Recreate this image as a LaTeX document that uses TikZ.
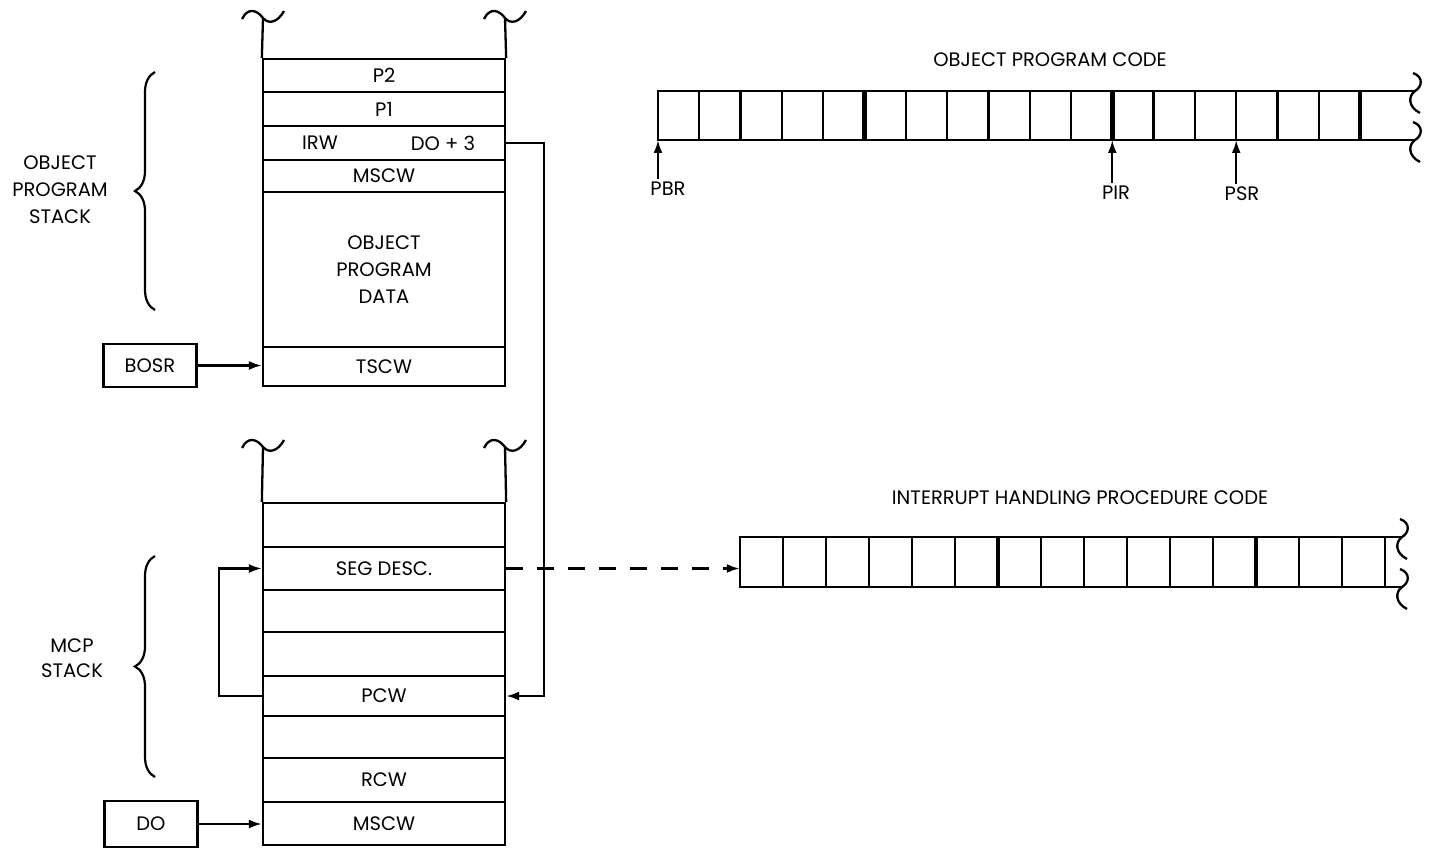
\documentclass[tikz,border=0pt]{standalone}
\usepackage{fontspec}
\setmainfont{Poppins}
\usetikzlibrary{arrows.meta,decorations.pathreplacing}
\begin{document}
\begin{tikzpicture}[x=1pt,y=-1pt,
  every node/.style={font=\fontsize{19.5}{27}\selectfont},
  ln/.style={line width=2.3pt},
  row/.style={draw,line width=2.3pt,minimum width=242pt,inner sep=0pt,anchor=center},
  regbox/.style={draw,line width=2.3pt,minimum width=93pt,minimum height=43pt,inner sep=0pt},
  arr/.style={line width=2.3pt,-{Latex[length=13pt,width=9pt]}},
  thickdiv/.style={line width=4.5pt},
  brc/.style={line width=2.2pt,decorate,decoration={brace,amplitude=20pt}},
  tld/.pic={\draw[line width=2.3pt] (-21,3) .. controls (-15,-9) and (-6,-6) .. (0,2) .. controls (6,9) and (15,6) .. (21,-5);},
  brk/.pic={\draw[line width=2.3pt] (-2,-18) .. controls (9,-14) and (7,-4) .. (0,0) .. controls (-7,5) and (-7,16) .. (5,22);}
]
\useasboundingbox (0,0) rectangle (1439,850);
\fill[white] (0,0) rectangle (1439,850);

% ---------- object program stack ----------
\node[row,minimum height=33pt] (p2) at (384,75.5) {P2};
\node[row,minimum height=34pt] (p1) at (384,109) {P1};
\node[row,minimum height=34pt] (irw) at (384,143) {};
\node (irwt) at (320,143) {IRW};
\node (dot) at (443,143) {DO + 3};
\node[row,minimum height=32pt] (mscw1) at (384,176) {MSCW};
\node[row,minimum height=155pt,align=center] (data) at (384,269.5) {OBJECT\\PROGRAM\\DATA};
\node[row,minimum height=39pt] (tscw) at (384,366.5) {TSCW};
\coordinate (tl1) at (263,18);
\coordinate (tr1) at (505,18);
\draw[ln] (tl1) -- (p2.north west);
\draw[ln] (tr1) -- (p2.north east);
\pic at (263,16) {tld};
\pic at (505,16) {tld};

\draw[brc] (155,310) -- (155,72);
\node[align=center] (ostack) at (60,190) {OBJECT\\PROGRAM\\STACK};

\node[regbox] (bosr) at (150,365.5) {BOSR};
\draw[arr] (bosr.east) -- (bosr.east -| tscw.west);

% ---------- MCP stack ----------
\node[row,minimum height=44pt] (b1) at (384,525) {};
\node[row,minimum height=43pt] (seg) at (384,568.5) {SEG DESC.};
\node[row,minimum height=42pt] (b3) at (384,611) {};
\node[row,minimum height=44pt] (b4) at (384,654) {};
\node[row,minimum height=40pt] (pcw) at (384,696) {PCW};
\node[row,minimum height=42pt] (b6) at (384,737) {};
\node[row,minimum height=44pt] (rcw) at (384,780) {RCW};
\node[row,minimum height=43pt] (mscw2) at (384,823.5) {MSCW};
\coordinate (tl2) at (263,447);
\coordinate (tr2) at (505,447);
\draw[ln] (tl2) -- (b1.north west);
\draw[ln] (tr2) -- (b1.north east);
\pic at (263,445) {tld};
\pic at (505,445) {tld};

\draw[brc] (155,777) -- (155,556);
\node[align=center,font=\fontsize{19.5}{25}\selectfont] (mstack) at (72,658) {MCP\\STACK};

\node[regbox,minimum height=46pt] (do) at (151,824) {DO};
\draw[arr] (do.east) -- (do.east -| mscw2.west);

% connectors
\draw[arr] (irw.east) -- ++(38,0) |- (pcw.east);
\draw[arr] (pcw.west) -- ++(-43,0) |- (seg.west);

% ---------- object program code ----------
\node (otitle) at (1050,60) {OBJECT PROGRAM CODE};
\node[minimum width=757pt,minimum height=49pt,inner sep=0pt] (ocode) at (1036.5,115.5) {};
\draw[ln] (ocode.north east) -- (ocode.north west) -- (ocode.south west) -- (ocode.south east);
\foreach \i in {1,2,3,4,6,7,8,9,10,12,13,14,15,16}
  \draw[ln] (658+\i*41.3,91) -- (658+\i*41.3,140);
\foreach \i in {5,11,17}
  \draw[thickdiv] (658+\i*41.3,91) -- (658+\i*41.3,140);
\pic at (1415,91) {brk};
\pic at (1415,140) {brk};

\coordinate (pbrpt) at (658,140);
\coordinate (pirpt) at (1112.3,140);
\coordinate (psrpt) at (1236.2,140);
\node (pbr) at (668,189) {PBR};
\node (pir) at (1116,193) {PIR};
\node (psr) at (1242,194) {PSR};
\draw[arr] (pbrpt |- pbr.north) -- (pbrpt);
\draw[arr] (pirpt |- pir.north) -- (pirpt);
\draw[arr] (psrpt |- psr.north) -- (psrpt);

% ---------- interrupt handling procedure code ----------
\node (ititle) at (1080,498) {INTERRUPT HANDLING PROCEDURE CODE};
\node[minimum width=662pt,minimum height=50pt,inner sep=0pt] (icode) at (1071,562) {};
\draw[ln] (icode.north east) -- (icode.north west) -- (icode.south west) -- (icode.south east);
\foreach \i in {1,2,3,4,5,7,8,9,10,11,13,14,15}
  \draw[ln] (740+\i*43,537) -- (740+\i*43,587);
\foreach \i in {6,12}
  \draw[thickdiv] (740+\i*43,537) -- (740+\i*43,587);
\pic at (1402,537) {brk};
\pic at (1402,587) {brk};

\draw[arr,dash pattern=on 17pt off 14pt] (seg.east) -- (seg.east -| icode.west);
\end{tikzpicture}
\end{document}
